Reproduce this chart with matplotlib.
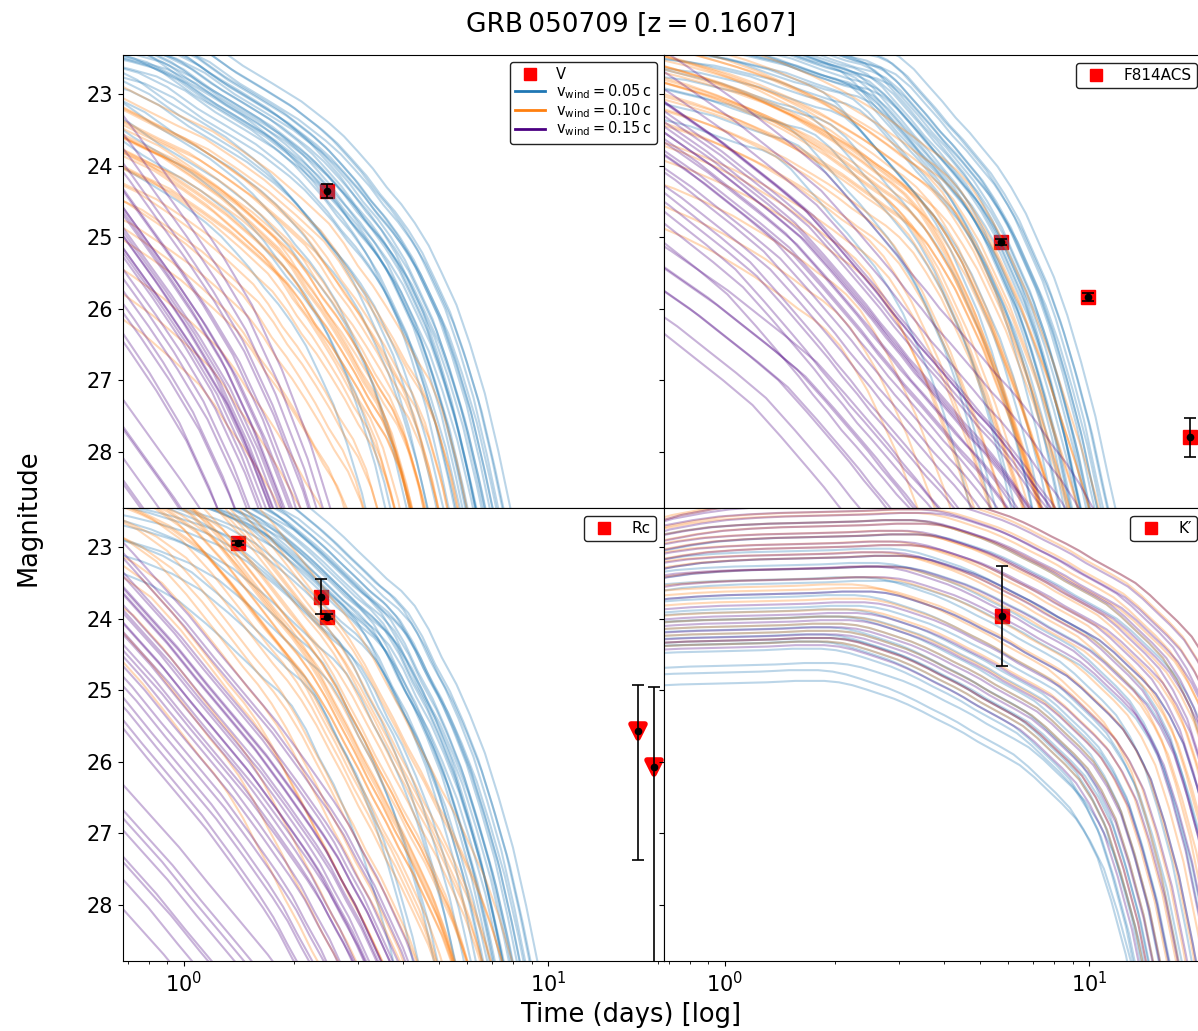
"""
Kilonova model light curves vs. photometry of GRB 050709 (four bands, three wind speeds).
"""
import matplotlib
matplotlib.use("Agg")
import matplotlib.pyplot as plt
from matplotlib.lines import Line2D
from matplotlib.markers import MarkerStyle
import numpy as np

# --------------------------------------------------------------------------- #
# Data
# --------------------------------------------------------------------------- #
# time nodes (days) of the reference model curves
T_DAYS = [0.4, 0.55, 0.7, 0.85, 1.0, 1.2, 1.45, 1.75, 2.1, 2.5,
          2.75, 3.0, 3.3, 3.6, 3.95, 4.3, 4.7, 5.1, 5.6, 6.1,
          6.7, 7.3, 8.0, 8.7, 9.5, 10.4, 11.3, 12.4, 13.6, 14.8,
          16.2, 17.7, 19.3, 21.1, 23.0, 25.2, 27.5, 30.0, 33.0, 36.0, 39.5, 43.0]

# reference model magnitude per band and wind speed (first len(...) nodes of T_DAYS)
V_005 = [21.7, 21.8, 21.9, 22.0, 22.1, 22.3, 22.6, 22.85, 23.1, 23.4,
         23.59, 23.8, 24.04, 24.3, 24.54, 24.8, 25.12, 25.5, 25.95, 26.5,
         27.19, 28.0, 28.96, 30.0, 31.06, 32.1, 33.06, 34.0, 34.99, 36.0]
V_010 = [22.35, 22.65, 22.93, 23.15, 23.33, 23.52, 23.8, 24.1, 24.45, 24.81,
         25.09, 25.4, 25.68, 25.98, 26.32, 26.67, 26.98, 27.4, 28.12, 29.0,
         29.98, 31.0, 32.0, 33.0, 34.0, 35.0, 36.0, 37.0, 38.0, 39.0]
V_015 = [22.5, 23.3, 24.0, 24.6, 25.1, 25.7, 26.4, 27.3, 28.35, 29.6,
         30.28, 31.0, 31.74, 32.5, 33.25, 34.0, 34.75, 35.5, 36.25, 37.0,
         37.75, 38.5, 39.25, 40.0, 40.75, 41.5, 42.25, 43.0, 43.75, 44.5]

F814_005 = [21.6, 21.65, 21.7, 21.75, 21.8, 21.85, 21.95, 22.05, 22.2, 22.33,
            22.38, 22.47, 22.65, 22.87, 23.10, 23.33, 23.54, 23.76, 24.01, 24.3,
            24.67, 25.1, 25.56, 26.09, 26.75, 27.51, 28.37, 29.28, 30.15, 31.05]
F814_010 = [21.9, 22.0, 22.1, 22.2, 22.3, 22.42, 22.57, 22.75, 22.95, 23.18,
            23.31, 23.45, 23.60, 23.75, 23.89, 24.05, 24.27, 24.55, 24.90, 25.3,
            25.75, 26.25, 26.78, 27.35, 27.94, 28.6, 29.40, 30.3, 31.28, 32.3]
F814_015 = [22.2, 22.6, 22.95, 23.25, 23.5, 23.82, 24.15, 24.5, 24.95, 25.4,
            25.65, 25.9, 26.15, 26.4, 26.63, 26.85, 27.08, 27.3, 27.52, 27.75,
            28.02, 28.3, 28.56, 28.85, 29.20, 29.6, 30.06, 30.6, 31.27, 32.0]

RC_005 = [21.5, 21.55, 21.6, 21.65, 21.72, 21.82, 21.95, 22.12, 22.35, 22.67,
          22.86, 23.05, 23.25, 23.44, 23.61, 23.82, 24.15, 24.54, 24.92, 25.35,
          25.88, 26.49, 27.20, 28.02, 28.98, 30.0, 31.0, 32.0, 33.0, 34.0]
RC_010 = [21.1, 21.25, 21.4, 21.55, 21.7, 21.9, 22.2, 22.66, 23.17, 23.67,
          23.92, 24.19, 24.54, 24.91, 25.29, 25.67, 26.03, 26.4, 26.77, 27.17,
          27.62, 28.15, 28.83, 29.6, 30.43, 31.3, 32.13, 33.0, 33.98, 35.0]
RC_015 = [22.0, 22.65, 23.22, 23.7, 24.1, 24.6, 25.1, 25.6, 26.15, 26.7,
          27.03, 27.4, 27.78, 28.2, 28.65, 29.15, 29.71, 30.3, 30.88, 31.5,
          32.23, 33.0, 33.75, 34.5, 35.25, 36.0, 36.75, 37.5, 38.25, 39.0]

K_MODEL = [23.0, 22.8, 22.65, 22.57, 22.52, 22.49, 22.47, 22.46, 22.45, 22.44,
           22.43, 22.42, 22.42, 22.42, 22.44, 22.48, 22.54, 22.6, 22.67, 22.75,
           22.85, 22.95, 23.05, 23.15, 23.27, 23.38, 23.48, 23.6, 23.77, 23.95,
           24.14, 24.35, 24.65, 25.05, 25.65, 26.4, 27.35, 28.4, 29.6, 30.8, 32.0, 33.3]

# ensemble spread: time stretch (S) and magnitude offset (D) of each model
BLUE_S = [1.00, 0.98, 0.96, 0.95, 0.93, 0.92, 0.90, 0.89, 0.87, 0.86, 0.84, 0.83, 0.81, 0.80,
          0.78, 0.77, 0.75, 0.73, 0.71, 0.69, 0.67, 0.65, 0.62, 0.59, 0.56, 0.53, 0.50, 0.46,
          0.88, 0.85, 0.82, 0.79, 0.76, 0.91]
BLUE_D = [0.00, 0.25, 0.10, 0.40, 0.05, 0.30, 0.55, 0.15, 0.45, 0.20, 0.65, 0.35, 0.10, 0.50,
          0.75, 0.25, 0.60, 0.40, 0.85, 0.20, 0.70, 0.95, 0.50, 1.10, 0.80, 1.25, 1.00, 1.40,
          0.35, 0.55, 0.25, 0.45, 0.30, 0.20]
ORANGE_S = [1.00, 0.97, 0.95, 0.92, 0.90, 0.88, 0.86, 0.84, 0.82, 0.80, 0.78, 0.76, 0.74,
            0.72, 0.70, 0.68, 0.66, 0.64, 0.62, 0.60, 0.58, 0.56, 0.53, 0.50, 0.47, 0.44,
            0.79, 0.75, 0.71, 0.69, 0.77, 0.73]
ORANGE_D = [0.00, 0.25, 0.10, 0.40, 0.20, 0.55, 0.30, 0.10, 0.65, 0.45, 0.25, 0.80, 0.55,
            0.35, 0.95, 0.70, 0.45, 1.10, 0.85, 1.30, 1.00, 1.50, 1.25, 1.75, 2.00, 2.25,
            0.40, 0.60, 0.20, 0.55, 0.85, 0.35]
PURPLE_V_S = [1.06, 1.04, 1.02, 1.01, 1.00, 0.98, 0.96, 0.94, 0.92, 0.90, 0.88, 0.86, 0.84, 0.82,
              0.80, 0.78, 0.76, 0.73, 0.70, 0.67, 0.98, 0.94, 0.90, 0.87, 0.84, 0.80, 0.76, 0.72,
              0.93, 0.89, 0.85, 0.91, 0.83, 0.87]
PURPLE_V_D = [-0.45, -0.25, -0.10, 0.20, 0.05, 0.35, 0.55, 0.25, 0.70, 0.45, 0.85, 0.60, 1.00, 0.75,
              1.15, 0.90, 1.30, 1.05, 1.45, 1.20, 3.30, 3.55, 3.45, 3.75, 3.95, 3.85, 4.20, 4.40,
              0.45, 0.65, 0.80, 0.95, 0.50, 0.30]
PURPLE_F814_S = [1.08, 1.05, 1.02, 1.00, 0.97, 0.94, 0.92, 0.89, 0.86, 0.84, 0.81, 0.78, 0.76,
                 0.73, 0.70, 0.67, 0.64, 0.61, 0.58, 1.02, 0.95, 0.90, 0.85, 0.80, 0.74, 0.68,
                 0.98, 0.95, 0.91, 0.88, 0.96, 0.90]
PURPLE_F814_D = [-0.40, -0.15, 0.05, 0.20, 0.35, 0.10, 0.50, 0.30, 0.65, 0.45, 0.80, 0.55, 0.95,
                 0.70, 1.05, 0.85, 1.20, 0.95, 1.30, 2.25, 2.45, 2.35, 2.60, 2.50, 2.75, 2.85,
                 0.30, 0.55, 0.40, 0.75, 0.15, 0.60]
PURPLE_RC_S = [1.03, 1.01, 1.00, 0.98, 0.96, 0.94, 0.92, 0.90, 0.88, 0.86, 0.83, 0.81, 0.78, 0.76,
               0.74, 0.72, 0.70, 0.68, 0.66, 0.64, 0.97, 0.93, 0.90, 0.87, 0.84, 0.92, 0.80, 0.88,
               0.97, 0.93, 0.89, 0.85, 0.91, 0.87]
PURPLE_RC_D = [-0.15, -0.05, 0.00, 0.15, 0.30, 0.10, 0.45, 0.25, 0.60, 0.40, 0.75, 0.55, 0.90, 0.70,
               1.05, 0.85, 1.20, 1.00, 1.35, 1.15, 3.10, 3.35, 3.55, 3.30, 3.75, 4.05, 3.95, 4.60,
               0.35, 0.55, 0.20, 0.50, 0.80, 0.95]
K_BLUE_S = [0.96, 0.90, 0.86, 0.82, 0.79, 0.76, 0.73, 0.70, 0.67, 0.65, 0.63, 0.61,
            0.60, 0.58, 0.57, 0.56, 0.55, 0.54, 0.53, 0.52, 0.51, 0.50, 0.55, 0.52, 0.50]
K_BLUE_D = [0.40, 0.20, 0.70, 0.85, 0.60, 1.05, 0.80, 1.20, 1.00, 1.40, 1.25, 1.55,
            1.45, 1.65, 1.55, 1.75, 1.85, 1.70, 1.90, 1.80, 2.00, 1.90, 2.20, 2.45, 2.30]
K_ORANGE_S = [1.08, 1.02, 1.00, 0.97, 0.94, 0.92, 0.90, 0.88, 0.85, 0.83, 0.80, 0.78,
              0.75, 0.72, 0.69, 0.66, 0.63, 0.60, 0.58, 0.56, 0.54, 0.53, 0.62]
K_ORANGE_D = [-0.10, -0.10, 0.05, 0.25, 0.10, 0.40, 0.20, 0.55, 0.35, 0.70, 0.50, 0.85,
              0.65, 1.00, 1.15, 1.30, 1.45, 1.55, 1.65, 1.75, 1.85, 1.90, 1.10]
K_PURPLE_S = [1.08, 1.03, 1.01, 0.99, 0.96, 0.94, 0.92, 0.90, 0.88, 0.86, 0.84, 0.81,
              0.79, 0.76, 0.73, 0.70, 0.67, 0.64, 0.61, 0.58, 0.56, 0.54, 0.52]
K_PURPLE_D = [-0.10, -0.05, 0.10, 0.25, 0.05, 0.40, 0.20, 0.55, 0.35, 0.70, 0.50, 0.85,
              0.65, 1.00, 0.85, 1.20, 1.35, 1.50, 1.60, 1.70, 1.80, 1.85, 1.95]

# observations: time (days), magnitude, error
V_T, V_M, V_E = [2.47], [24.35], [0.10]
F814_T, F814_M, F814_E = [5.73, 9.94, 18.9], [25.07, 25.84, 27.80], [0.04, 0.06, 0.27]
RC_T, RC_M, RC_E = [1.41, 2.38, 2.47], [22.94, 23.69, 23.97], [0.03, 0.24, 0.04]
K_T, K_M, K_E = [5.75], [23.96], [0.70]
# Rc upper limits with asymmetric bars (up, down)
RCLIM_T, RCLIM_M = [17.6, 19.5], [25.57, 26.08]
RCLIM_UP, RCLIM_DN = [0.64, 1.13], [1.80, 3.00]

WIND_COLORS = ["#1f77b4", "#ff7f0e", "#4b0082"]
WIND_LABELS = [r"$\mathrm{v_{wind}=0.05\,c}$",
               r"$\mathrm{v_{wind}=0.10\,c}$",
               r"$\mathrm{v_{wind}=0.15\,c}$"]


# --------------------------------------------------------------------------- #
# Drawing helpers
# --------------------------------------------------------------------------- #
def draw_models(ax, model, stretch, offset, color):
    m = np.asarray(model)
    t = np.asarray(T_DAYS[:len(m)])
    for s, d in zip(stretch, offset):
        ax.plot(t * s, m + d, color=color, alpha=0.3, lw=1.5, zorder=2)


def draw_obs(ax, t, m, err):
    ax.plot(t, m, "s", color="red", ms=10, zorder=1)
    ax.errorbar(t, m, yerr=err, fmt="o", color="k", ms=4.5, capsize=4,
                elinewidth=1.2, capthick=1.2, zorder=4)


def add_legend(ax, label, with_winds=False):
    handles = [Line2D([], [], ls="none", marker="s", color="red", ms=9, label=label)]
    if with_winds:
        handles += [Line2D([], [], color=c, lw=2, label=l)
                    for c, l in zip(WIND_COLORS, WIND_LABELS)]
        leg = ax.legend(handles=handles, loc="upper right", fontsize=10.5,
                        labelspacing=0.0, borderpad=0.35, framealpha=1)
    else:
        leg = ax.legend(handles=handles, loc="upper right", fontsize=11,
                        borderpad=0.35, framealpha=1)
    leg.get_frame().set_edgecolor("#222222")
    leg.set_zorder(10)


# --------------------------------------------------------------------------- #
# Figure
# --------------------------------------------------------------------------- #
fig = plt.figure(figsize=(11.98, 10.31), dpi=100)
w, h = 0.4516, 0.4394
ax_v = fig.add_axes([0.1027, 0.5073, w, h])
ax_f = fig.add_axes([0.5543, 0.5073, w, h], sharex=ax_v, sharey=ax_v)
ax_r = fig.add_axes([0.1027, 0.0679, w, h], sharex=ax_v, sharey=ax_v)
ax_k = fig.add_axes([0.5543, 0.0679, w, h], sharex=ax_v, sharey=ax_v)

# V
draw_models(ax_v, V_005, BLUE_S, BLUE_D, WIND_COLORS[0])
draw_models(ax_v, V_010, ORANGE_S, ORANGE_D, WIND_COLORS[1])
draw_models(ax_v, V_015, PURPLE_V_S, PURPLE_V_D, WIND_COLORS[2])
draw_obs(ax_v, V_T, V_M, V_E)
add_legend(ax_v, "V", with_winds=True)

# F814ACS
draw_models(ax_f, F814_005, BLUE_S, BLUE_D, WIND_COLORS[0])
draw_models(ax_f, F814_010, ORANGE_S, ORANGE_D, WIND_COLORS[1])
draw_models(ax_f, F814_015, PURPLE_F814_S, PURPLE_F814_D, WIND_COLORS[2])
draw_obs(ax_f, F814_T, F814_M, F814_E)
add_legend(ax_f, "F814ACS")

# Rc
draw_models(ax_r, RC_005, BLUE_S, BLUE_D, WIND_COLORS[0])
draw_models(ax_r, RC_010, ORANGE_S, ORANGE_D, WIND_COLORS[1])
draw_models(ax_r, RC_015, PURPLE_RC_S, PURPLE_RC_D, WIND_COLORS[2])
draw_obs(ax_r, RC_T, RC_M, RC_E)
ax_r.plot(RCLIM_T, RCLIM_M, ls="none", marker=MarkerStyle("v", joinstyle="round"),
          color="red", ms=10, mew=4, markeredgecolor="red", zorder=3)
ax_r.errorbar(RCLIM_T, RCLIM_M, yerr=[RCLIM_UP, RCLIM_DN], fmt="o", color="k",
              ms=4.5, capsize=4, elinewidth=1.2, capthick=1.2, zorder=4)
add_legend(ax_r, "Rc")

# K'
draw_models(ax_k, K_MODEL, K_BLUE_S, K_BLUE_D, WIND_COLORS[0])
draw_models(ax_k, K_MODEL, K_ORANGE_S, K_ORANGE_D, WIND_COLORS[1])
draw_models(ax_k, K_MODEL, K_PURPLE_S, K_PURPLE_D, WIND_COLORS[2])
draw_obs(ax_k, K_T, K_M, K_E)
add_legend(ax_k, "K\u2032")

ax_v.set_xscale("log")
ax_v.set_xlim(0.68, 20.8)
ax_v.set_ylim(28.79, 22.45)

for ax in (ax_v, ax_f, ax_r, ax_k):
    ax.tick_params(labelsize=15)
for ax in (ax_v, ax_f):
    ax.tick_params(labelbottom=False)
for ax in (ax_f, ax_k):
    ax.tick_params(labelleft=False)

fig.text(0.527, 0.976, "GRB\u2009050709 [z\u2009=\u20090.1607]", ha="center",
         va="center", fontsize=19)
fig.text(0.527, 0.0155, "Time (days) [log]", ha="center", va="center", fontsize=18.5)
fig.text(0.0234, 0.4976, "Magnitude", ha="center", va="center", rotation=90,
         fontsize=18.5)

fig.savefig("out.png", dpi=100)
